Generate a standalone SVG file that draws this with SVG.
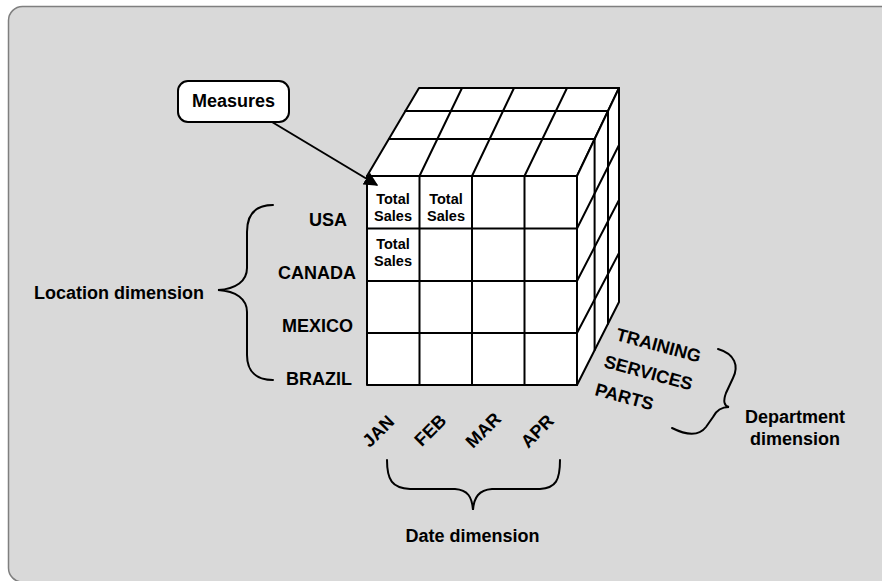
<svg xmlns="http://www.w3.org/2000/svg" width="882" height="581" viewBox="0 0 882 581">
  <style>
    text { font-family: "Liberation Sans", Arial, sans-serif; font-weight: bold; fill: #000; }
    .lbl { font-size: 18px; }
    .cell { font-size: 14.5px; text-anchor: middle; }
    .face { fill: #fff; stroke: #000; stroke-width: 2; stroke-linejoin: round; }
    .grid { stroke: #000; stroke-width: 2; fill: none; stroke-linecap: round; }
    .brace { fill: none; stroke: #000; stroke-width: 2; stroke-linecap: round; }
  </style>
  <defs>
    <marker id="arrow" viewBox="0 0 10 10" refX="9" refY="5" markerWidth="7" markerHeight="7" orient="auto" markerUnits="strokeWidth">
      <path d="M0,0 L10,5 L0,10 z" fill="#000"/>
    </marker>
  </defs>

  <rect width="882" height="581" fill="#fff"/>
  <rect x="8.5" y="6.5" width="890" height="575.5" rx="14" fill="#d9d9d9" stroke="#7f7f7f" stroke-width="1.5"/>

  <!-- data cube -->
  <g id="cube">
    <polygon class="face" points="367,176 419,88 619,88 577,176"/>
    <polygon class="face" points="577,176 619,88 619,302 577,385"/>
    <rect class="face" x="367" y="176" width="210" height="209"/>
    <!-- top face -->
    <line class="grid" x1="405.4" y1="111" x2="608" y2="111"/>
    <line class="grid" x1="388.9" y1="139" x2="594.6" y2="139"/>
    <line class="grid" x1="419.5" y1="176" x2="462" y2="88"/>
    <line class="grid" x1="472" y1="176" x2="514" y2="88"/>
    <line class="grid" x1="524.5" y1="176" x2="567" y2="88"/>
    <!-- right face -->
    <line class="grid" x1="594.6" y1="139" x2="594.6" y2="350"/>
    <line class="grid" x1="608" y1="111" x2="608" y2="323.7"/>
    <line class="grid" x1="577" y1="228.5" x2="619" y2="145"/>
    <line class="grid" x1="577" y1="281" x2="619" y2="200"/>
    <line class="grid" x1="577" y1="333" x2="619" y2="253"/>
    <!-- front face -->
    <line class="grid" x1="419.5" y1="176" x2="419.5" y2="385"/>
    <line class="grid" x1="472" y1="176" x2="472" y2="385"/>
    <line class="grid" x1="524.5" y1="176" x2="524.5" y2="385"/>
    <line class="grid" x1="367" y1="228.5" x2="577" y2="228.5"/>
    <line class="grid" x1="367" y1="281" x2="577" y2="281"/>
    <line class="grid" x1="367" y1="333" x2="577" y2="333"/>
    <text class="cell" x="393" y="203.5">Total</text>
    <text class="cell" x="393" y="221">Sales</text>
    <text class="cell" x="446" y="203.5">Total</text>
    <text class="cell" x="446" y="221">Sales</text>
    <text class="cell" x="393" y="249">Total</text>
    <text class="cell" x="393" y="266">Sales</text>
  </g>

  <!-- measures callout -->
  <g id="measures">
    <rect x="178" y="81" width="111" height="41" rx="10" fill="#fff" stroke="#000" stroke-width="2"/>
    <text class="lbl" x="233.5" y="106.5" text-anchor="middle">Measures</text>
  </g>

  <!-- location dimension -->
  <g id="location">
    <text class="lbl" x="347" y="226" text-anchor="end">USA</text>
    <text class="lbl" x="356" y="279" text-anchor="end">CANADA</text>
    <text class="lbl" x="353" y="332" text-anchor="end">MEXICO</text>
    <text class="lbl" x="352" y="385" text-anchor="end">BRAZIL</text>
    <path class="brace" d="M273,205 C257,205 247,213 247,232 L247,268 C247,281 236,289 218,290 C236,291 247,299 247,312 L247,355 C247,372 257,380 273,380"/>
    <text class="lbl" x="34" y="299">Location dimension</text>
  </g>

  <!-- date dimension -->
  <g id="date">
    <text class="lbl" transform="translate(378,431) rotate(-45)" x="0" y="6.5" text-anchor="middle">JAN</text>
    <text class="lbl" transform="translate(430,430) rotate(-45)" x="0" y="6.5" text-anchor="middle">FEB</text>
    <text class="lbl" transform="translate(483,430) rotate(-45)" x="0" y="6.5" text-anchor="middle">MAR</text>
    <text class="lbl" transform="translate(537,431) rotate(-45)" x="0" y="6.5" text-anchor="middle">APR</text>
    <path class="brace" d="M387,460 C387,480 392,488 410,489 L455,489 C468,490 472,497 473,510 C474,497 479,490 492,489 L540,489 C556,488 560,480 560,460"/>
    <text class="lbl" x="472.5" y="542" text-anchor="middle">Date dimension</text>
  </g>

  <!-- department dimension -->
  <g id="department">
    <text class="lbl" transform="translate(615,340) rotate(15)">TRAINING</text>
    <text class="lbl" transform="translate(603,367) rotate(15)">SERVICES</text>
    <text class="lbl" transform="translate(594,395) rotate(15)">PARTS</text>
    <path class="brace" d="M718,349 C735,354 739,366 733,378 L726,393 C723,401 724,406 729,407 C721,407 716,411 713,417 L706,427 C699,436 688,436 672,428"/>
    <text class="lbl" x="795" y="423" text-anchor="middle">Department</text>
    <text class="lbl" x="795" y="445" text-anchor="middle">dimension</text>
  </g>

  <!-- connectors -->
  <g id="connectors">
    <line x1="272" y1="122" x2="377" y2="185" stroke="#000" stroke-width="2" marker-end="url(#arrow)"/>
  </g>
</svg>
